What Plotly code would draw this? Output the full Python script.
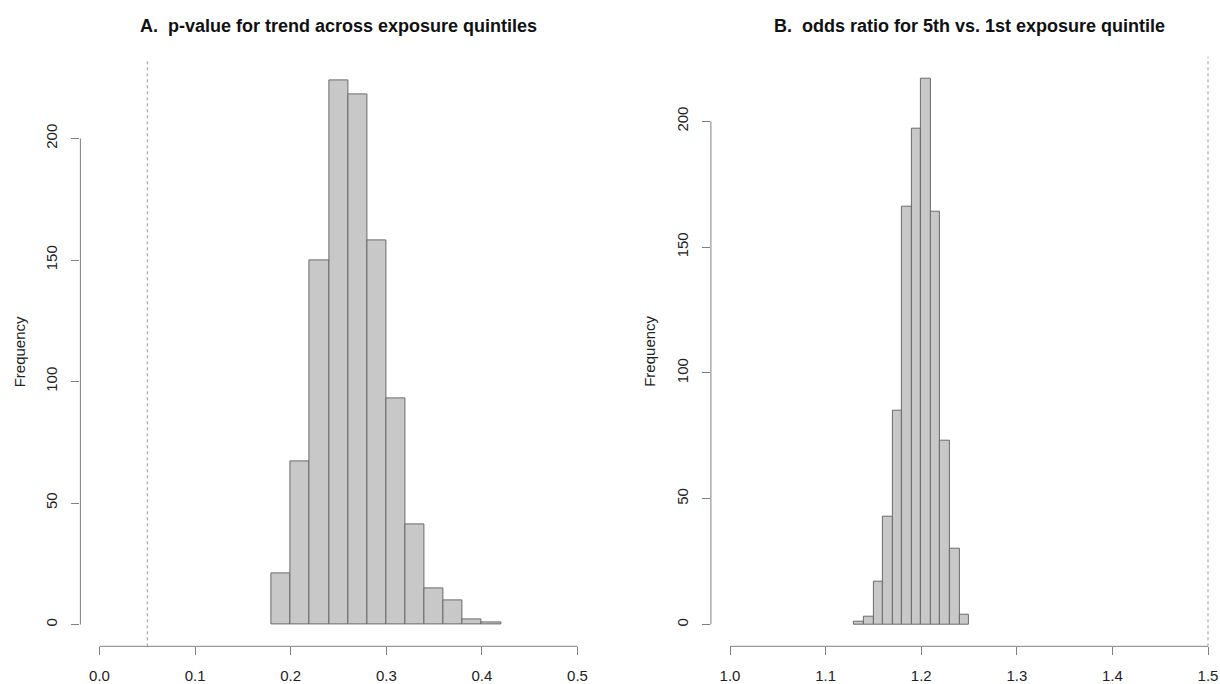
import plotly.graph_objects as go

# Panel A: p-value for trend (bins of width 0.02)
pval_bin_left = [0.18, 0.20, 0.22, 0.24, 0.26, 0.28, 0.30, 0.32, 0.34, 0.36, 0.38, 0.40]
pval_counts = [21, 67, 150, 224, 218, 158, 93, 41, 15, 10, 2, 1]
pval_bin_width = 0.02
pval_ref_line = 0.05

# Panel B: odds ratio (bins of width 0.01)
or_bin_left = [1.13, 1.14, 1.15, 1.16, 1.17, 1.18, 1.19, 1.20, 1.21, 1.22, 1.23, 1.24]
or_counts = [1, 3, 17, 43, 85, 166, 197, 217, 164, 73, 30, 4]
or_bin_width = 0.01
or_ref_line = 1.5

x_ticks_a = [0.0, 0.1, 0.2, 0.3, 0.4, 0.5]
x_ticks_b = [1.0, 1.1, 1.2, 1.3, 1.4, 1.5]
y_ticks = [0, 50, 100, 150, 200]

title_a = "A.  p-value for trend across exposure quintiles"
title_b = "B.  odds ratio for 5th vs. 1st exposure quintile"

FONT = "Liberation Sans, Arial, Helvetica, sans-serif"
BAR_FILL = "#C8C8C8"
BAR_LINE = "#6A6A6A"
AXIS_COL = "#808080"
TEXT_COL = "#222222"

W, H = 1220, 684
dom_a = [80.4 / W, 596.6 / W]
dom_b = [710.9 / W, 1.0]
ydom_a = [(H - 646.3) / H, (H - 58.4) / H]
ydom_b = [(H - 646.3) / H, (H - 56.7) / H]

fig = go.Figure()
fig.add_trace(go.Bar(
    x=[l + pval_bin_width / 2 for l in pval_bin_left], y=pval_counts,
    width=[pval_bin_width] * len(pval_counts),
    marker=dict(color=BAR_FILL, line=dict(color=BAR_LINE, width=1)),
    xaxis="x", yaxis="y", showlegend=False, hoverinfo="x+y"))
fig.add_trace(go.Bar(
    x=[l + or_bin_width / 2 for l in or_bin_left], y=or_counts,
    width=[or_bin_width] * len(or_counts),
    marker=dict(color=BAR_FILL, line=dict(color=BAR_LINE, width=1)),
    xaxis="x2", yaxis="y2", showlegend=False, hoverinfo="x+y"))

ymax_a = max(pval_counts)
ymax_b = max(or_counts)
ext = 0.04

axis_common = dict(showgrid=False, zeroline=False, showline=False,
                   ticks="outside", ticklen=8, tickwidth=1, tickcolor=AXIS_COL,
                   tickfont=dict(family=FONT, size=15, color=TEXT_COL))

fig.update_layout(
    width=W, height=H,
    margin=dict(l=0, r=0, t=0, b=0),
    paper_bgcolor="white", plot_bgcolor="white",
    bargap=0,
    xaxis=dict(domain=dom_a, anchor="y",
               range=[x_ticks_a[0] - ext * (x_ticks_a[-1] - x_ticks_a[0]),
                      x_ticks_a[-1] + ext * (x_ticks_a[-1] - x_ticks_a[0])],
               tickvals=x_ticks_a, ticktext=[f"{v:.1f}" for v in x_ticks_a],
               ticklabelstandoff=8, **axis_common),
    yaxis=dict(domain=ydom_a, anchor="x",
               range=[-ext * ymax_a, ymax_a * (1 + ext)],
               tickvals=y_ticks, tickangle=-90, ticklabelstandoff=8, **axis_common),
    xaxis2=dict(domain=dom_b, anchor="y2",
                range=[x_ticks_b[0] - ext * (x_ticks_b[-1] - x_ticks_b[0]),
                       x_ticks_b[-1] + 12 / 956],
                tickvals=x_ticks_b, ticktext=[f"{v:.1f}" for v in x_ticks_b],
                ticklabelstandoff=8, **axis_common),
    yaxis2=dict(domain=ydom_b, anchor="x2",
                range=[-ext * ymax_b, ymax_b * (1 + ext)],
                tickvals=y_ticks, tickangle=-90, ticklabelstandoff=8, **axis_common),
)

shapes = []
# R-style detached axis lines (span first to last tick)
for xa, ya, xt in (("x", "y", x_ticks_a), ("x2", "y2", x_ticks_b)):
    shapes.append(dict(type="line", xref=xa, yref=f"{ya} domain",
                       x0=xt[0], x1=xt[-1], y0=0, y1=0,
                       line=dict(color=AXIS_COL, width=1)))
    shapes.append(dict(type="line", xref=f"{xa} domain", yref=ya,
                       x0=0, x1=0, y0=y_ticks[0], y1=y_ticks[-1],
                       line=dict(color=AXIS_COL, width=1)))
# reference dotted lines
shapes.append(dict(type="line", xref="x", yref="y domain", x0=pval_ref_line, x1=pval_ref_line,
                   y0=0, y1=1, line=dict(color="#9A9A9A", width=1, dash="dot")))
shapes.append(dict(type="line", xref="x2", yref="y2 domain", x0=or_ref_line, x1=or_ref_line,
                   y0=0, y1=1, line=dict(color="#9A9A9A", width=1, dash="dot")))
fig.update_layout(shapes=shapes)

annotations = [
    dict(text=f"<b>{title_a}</b>", x=(dom_a[0] + dom_a[1]) / 2, y=1 - 26 / H,
         xref="paper", yref="paper", showarrow=False, xanchor="center", yanchor="middle",
         font=dict(family=FONT, size=18, color="#111111")),
    dict(text=f"<b>{title_b}</b>", x=(710.9 + 1227.1) / 2 / W, y=1 - 26 / H,
         xref="paper", yref="paper", showarrow=False, xanchor="center", yanchor="middle",
         font=dict(family=FONT, size=18, color="#111111")),
    dict(text="Frequency", x=19 / W, y=(ydom_a[0] + ydom_a[1]) / 2, textangle=-90,
         xref="paper", yref="paper", showarrow=False, xanchor="center", yanchor="middle",
         font=dict(family=FONT, size=15, color=TEXT_COL)),
    dict(text="Frequency", x=(19 + 630.3) / W, y=(ydom_b[0] + ydom_b[1]) / 2, textangle=-90,
         xref="paper", yref="paper", showarrow=False, xanchor="center", yanchor="middle",
         font=dict(family=FONT, size=15, color=TEXT_COL)),
]
fig.update_layout(annotations=annotations)

fig.write_html("out.html")
